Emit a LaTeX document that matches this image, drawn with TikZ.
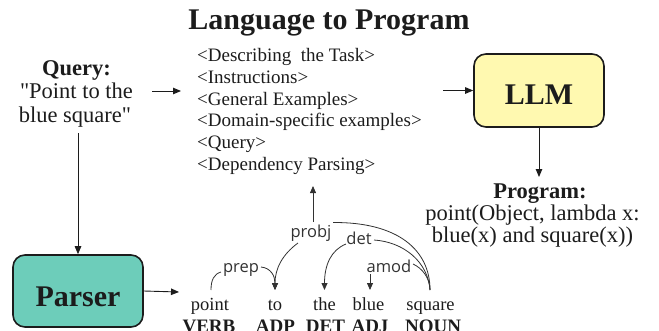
\documentclass[tikz,border=0pt]{standalone}
\usepackage{fontspec}
\setmainfont{Liberation Serif}[Ligatures=TeXOff]
\newfontfamily\depfont{Open Sans}
\usetikzlibrary{arrows.meta}
\definecolor{ink}{RGB}{28,28,28}
\definecolor{llmfill}{RGB}{255,249,176}
\definecolor{parserfill}{RGB}{109,205,186}
\definecolor{depgray}{RGB}{50,50,50}
\tikzset{
  arr/.style={-{Triangle[length=8pt,width=6.5pt]}, line width=0.9pt, draw=ink},
  dep/.style={line width=0.8pt, draw=depgray},
  deparr/.style={dep, -{Triangle[length=7pt,width=6pt]}},
  bodytxt/.style={anchor=base, font=\fontsize{22.5}{24}\selectfont},
  boldtxt/.style={anchor=base, font=\bfseries\fontsize{22.5}{24}\selectfont},
  listtxt/.style={anchor=base west, font=\fontsize{19}{20}\selectfont},
  wordtxt/.style={anchor=base, font=\fontsize{18.5}{20}\selectfont},
  postxt/.style={anchor=base, font=\bfseries\fontsize{19}{20}\selectfont},
  deplbl/.style={anchor=base, text=depgray, font=\depfont\fontsize{16.5}{18}\selectfont},
  boxstyle/.style={draw=ink, line width=1.6pt, rounded corners=12pt, minimum width=130pt},
  boxtxt/.style={anchor=base, font=\bfseries\fontsize{30}{30}\selectfont},
}
\begin{document}
\begin{tikzpicture}[x=1pt,y=-1pt, every node/.style={inner sep=0pt, text=ink}]
\useasboundingbox (0,0) rectangle (659,330);
% title
\node[boxtxt] (title) at (329,29) {Language to Program};
% query
\node[boldtxt] (q1) at (76.5,75) {Query:};
\node[bodytxt] (q2) at (76.5,98) {"Point to the};
\node[bodytxt] (q3) at (75,122) {blue square"};
\coordinate (qa) at (152,91);
\coordinate (qb) at (181,91);
\draw[arr] (qa) -- (qb);
% list
\node[listtxt] (l1) at (197,61.7) {<Describing~ the Task>};
\node[listtxt] (l2) at (197,83.3) {<Instructions>};
\node[listtxt] (l3) at (197,105) {<General Examples>};
\node[listtxt] (l4) at (197,126.7) {<Domain-specific examples>};
\node[listtxt] (l5) at (197,148.3) {<Query>};
\node[listtxt] (l6) at (197,170) {<Dependency Parsing>};
% LLM
\node[boxstyle, fill=llmfill, minimum height=73pt] (llm) at (539,90.5) {};
\node[boxtxt] (llmtxt) at (539,104) {LLM};
\coordinate (la) at (443,90.5);
\draw[arr] (la) -- (llm.west);
% program
\coordinate (pa) at (539,177);
\draw[arr] (llm.south) -- (pa);
\node[boldtxt] (p1) at (540,198) {Program:};
\node[bodytxt] (p2) at (532.5,220) {point(Object, lambda x:};
\node[bodytxt] (p3) at (532.5,242) {blue(x) and square(x))};
% parser
\node[boxstyle, fill=parserfill, minimum height=72pt] (parser) at (78,291) {};
\node[boxtxt] (parsertxt) at (78,306) {Parser};
\coordinate (qd) at (78,133);
\draw[arr] (qd) -- (parser.north);
\coordinate (pr) at (179,292);
\draw[arr] (parser.east) -- (pr);
% words
\node[wordtxt] (w1) at (210,310) {point};
\node[wordtxt] (w2) at (275,310) {to};
\node[wordtxt] (w3) at (324.5,310) {the};
\node[wordtxt] (w4) at (368.5,310) {blue};
\node[wordtxt] (w5) at (430.5,310) {square};
\node[postxt] (t1) at (209,332) {VERB};
\node[postxt] (t2) at (275.5,332) {ADP};
\node[postxt] (t3) at (325.5,332) {DET};
\node[postxt] (t4) at (370,332) {ADJ};
\node[postxt] (t5) at (433,332) {NOUN};
% dependency labels
\node[deplbl] (prep) at (241,272.5) {prep};
\node[deplbl] (probj) at (311,237) {probj};
\node[deplbl] (det) at (359,244) {det};
\node[deplbl] (amod) at (389,272) {amod};
% dependency arcs
\coordinate (pt) at (211,290);
\coordinate (tot) at (275,290);
\coordinate (thet) at (324.5,290);
\coordinate (bluet) at (370,290);
\coordinate (sqt) at (430,290);
\coordinate (prepL) at (221,272);
\coordinate (prepR) at (261,267);
\draw[dep] (pt) .. controls (211,280) and (214,274) .. (prepL);
\draw[deparr] (prepR) .. controls (271,268) and (275,276) .. (tot);
\coordinate (probjR) at (333,222.5);
\coordinate (probjL) at (298,243);
\draw[dep] (probjR) .. controls (398,222) and (430,250) .. (sqt);
\draw[deparr] (probjL) .. controls (283,254) and (275,268) .. (tot);
\coordinate (detR) at (374,240);
\coordinate (detL) at (346,244);
\draw[dep] (detR) .. controls (404,242) and (428,262) .. (sqt);
\draw[deparr] (detL) .. controls (331,250) and (324.5,265) .. (thet);
\coordinate (amodR) at (413,264);
\coordinate (amodB) at (370,274);
\draw[dep] (amodR) .. controls (422,268) and (430,278) .. (sqt);
\draw[deparr] (amodB) -- (bluet);
\coordinate (probjT) at (313,222);
\coordinate (up) at (313,186);
\draw[deparr] (probjT) -- (up);
\end{tikzpicture}
\end{document}
